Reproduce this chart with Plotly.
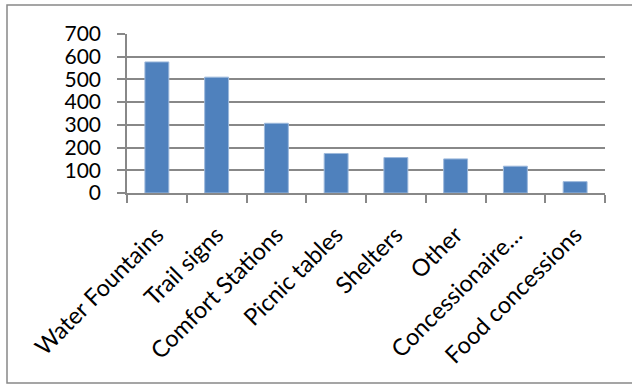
import plotly.graph_objects as go

# Amenity counts by category
categories = ["Water Fountains", "Trail signs", "Comfort Stations", "Picnic tables",
              "Shelters", "Other", "Concessionaire…", "Food concessions"]
counts = [577, 510, 307, 174, 156, 150, 118, 50]
y_ticks = [0, 100, 200, 300, 400, 500, 600, 700]

W, H = 632, 385
ML, MR, MT, MB = 127, 27, 34, 192
PW, PH = W - ML - MR, H - MT - MB

FONT = "Lato"
GRID = "#888888"
BAR = "#4F81BD"

fig = go.Figure(go.Bar(
    x=categories, y=counts,
    marker=dict(color=BAR, line=dict(color="#9DB9DC", width=1)),
))

fig.update_layout(
    width=W, height=H,
    margin=dict(l=ML, r=MR, t=MT, b=MB),
    paper_bgcolor="white", plot_bgcolor="white",
    bargap=0.6, showlegend=False,
    font=dict(family=FONT, size=22, color="#000000"),
)

fig.update_yaxes(
    range=[0, 700], tickvals=y_ticks, showgrid=True,
    gridcolor=GRID, gridwidth=1.5,
    showline=True, linecolor=GRID, linewidth=1.5,
    ticks="outside", ticklen=8, tickcolor=GRID, tickwidth=1.5,
    ticklabelstandoff=12, zeroline=False,
    tickfont=dict(family=FONT, size=21),
)
fig.update_xaxes(
    showline=True, linecolor=GRID, linewidth=1.5,
    ticks="outside", ticklen=8, tickcolor=GRID, tickwidth=1.5,
    tickson="boundaries", tickangle=-45, showgrid=False,
    ticklabelstandoff=17,
    tickfont=dict(family=FONT, size=23.5),
)

# chart frame, placed in pixel terms relative to the plot area
def px_x(x):
    return (x - ML) / PW

def px_y(y):
    return (H - MB - y) / PH

fig.add_shape(type="rect", xref="paper", yref="paper",
              x0=px_x(7), x1=px_x(640), y0=px_y(383), y1=px_y(5),
              line=dict(color=GRID, width=1.5), fillcolor="rgba(0,0,0,0)",
              layer="below")

fig.write_html("out.html")
